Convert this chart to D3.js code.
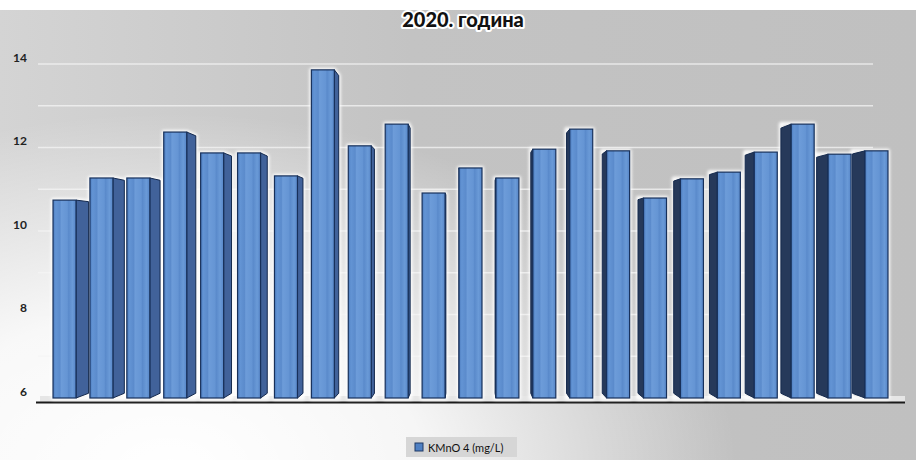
<!DOCTYPE html>
<html>
<head>
<meta charset="utf-8">
<script src="https://cdn.jsdelivr.net/npm/d3@7/dist/d3.min.js"></script>
<style>
  html, body { margin: 0; padding: 0; background: #fff; }
  svg { display: block; }
</style>
</head>
<body>
<svg id="chart" width="916" height="460"></svg>
<script>
// Sampling points along the x axis (unlabelled on the chart)
const stations = ["1","2","3","4","5","6","7","8","9","10","11","12","13","14","15","16","17","18","19","20","21","22","23"];
// KMnO4 consumption, mg/L
const kmno4 = [10.74, 11.27, 11.27, 12.37, 11.87, 11.87, 11.32, 13.86, 12.04, 12.56, 10.91, 11.51,
               11.27, 11.96, 12.44, 11.92, 10.79, 11.25, 11.41, 11.89, 12.56, 11.84, 11.92];
const yTickValues = [6, 8, 10, 12, 14];
const gridValues = [7, 8, 9, 10, 11, 12, 13, 14];
const chartTitle = "2020. година";
const seriesName = "KMnO 4 (mg/L)";

const W = 916, H = 460;
const svg = d3.select("#chart");
const defs = svg.append("defs");

// ---- background ----
const bgLin = defs.append("linearGradient").attr("id", "bgLin")
  .attr("x1", 0).attr("y1", 0).attr("x2", 1).attr("y2", 0);
bgLin.append("stop").attr("offset", 0).attr("stop-color", "#d4d4d4");
bgLin.append("stop").attr("offset", 0.45).attr("stop-color", "#c3c3c3");
bgLin.append("stop").attr("offset", 1).attr("stop-color", "#c0c0c0");

const glow = defs.append("radialGradient").attr("id", "bgGlow")
  .attr("gradientUnits", "userSpaceOnUse")
  .attr("cx", 0).attr("cy", 0).attr("r", 420)
  .attr("gradientTransform", "translate(170,470) scale(1.35,0.85)");
glow.append("stop").attr("offset", 0).attr("stop-color", "#ffffff").attr("stop-opacity", 1);
glow.append("stop").attr("offset", 0.45).attr("stop-color", "#ffffff").attr("stop-opacity", 0.85);
glow.append("stop").attr("offset", 1).attr("stop-color", "#ffffff").attr("stop-opacity", 0);

svg.append("rect").attr("x", 0).attr("y", 0).attr("width", W).attr("height", H).attr("fill", "#fff");
svg.append("rect").attr("x", 0).attr("y", 10).attr("width", W).attr("height", H - 10).attr("fill", "url(#bgLin)");
svg.append("rect").attr("x", 0).attr("y", 10).attr("width", W).attr("height", H - 10).attr("fill", "url(#bgGlow)");

// ---- scales ----
const x = d3.scaleBand().domain(stations).range([46, 895]).paddingInner(0.377).paddingOuter(0.19);
const y = d3.scaleLinear().domain([6, 14]).range([398, 64]);

// perspective used for the bar side faces
const vp = { x: 470, y: 250 }, depth = 0.032;

// ---- gridlines ----
svg.append("g").selectAll("line").data(gridValues).join("line")
  .attr("x1", 38).attr("x2", 873)
  .attr("y1", d => y(d)).attr("y2", d => y(d))
  .attr("stroke", "#f4f4f4").attr("stroke-opacity", 0.75).attr("stroke-width", 1.4);

// ---- y axis labels ----
const yAxis = d3.axisLeft(y).tickValues(yTickValues).tickSize(0).tickPadding(0).tickFormat(d3.format("d"));
const gy = svg.append("g").attr("transform", "translate(27,0)").call(yAxis);
gy.select(".domain").remove();
gy.selectAll("text")
  .attr("dy", "-0.25em")
  .attr("font-family", "Lato, 'Open Sans', sans-serif")
  .attr("font-weight", "bold").attr("font-size", 12).attr("fill", "#222");

// ---- floor ----
svg.append("rect").attr("x", 40).attr("y", 396).attr("width", 865).attr("height", 6).attr("fill", "#e6e6e6");
svg.append("line").attr("x1", 36).attr("x2", 905).attr("y1", 402.5).attr("y2", 402.5)
  .attr("stroke", "#1a1a1a").attr("stroke-width", 2);

// ---- bar paints ----
const frontGrad = defs.append("linearGradient").attr("id", "front")
  .attr("x1", 0).attr("y1", 0).attr("x2", 1).attr("y2", 0);
[[0, "#4d7dc0"], [0.12, "#6394d4"], [0.3, "#5b8bcc"], [0.36, "#6d9cd9"], [0.62, "#6595d4"],
 [0.68, "#5a8acb"], [0.85, "#6a9ad7"], [1, "#5685c7"]].forEach(([o, c]) =>
  frontGrad.append("stop").attr("offset", o).attr("stop-color", c));

const halo = defs.append("filter").attr("id", "halo").attr("x", "-20%").attr("y", "-20%").attr("width", "140%").attr("height", "140%");
halo.append("feGaussianBlur").attr("stdDeviation", 1.4);

const bars = kmno4.map((v, i) => {
  const fx0 = x(stations[i]), fx1 = fx0 + x.bandwidth();
  const cx = (fx0 + fx1) / 2;
  const leftOfCentre = cx < vp.x;
  const e = leftOfCentre ? fx1 : fx0;
  const yt = y(v), yb = y(6);
  const bx = e + (vp.x - e) * depth;
  const byt = yt + (vp.y - yt) * depth;
  const byb = yb + (vp.y - yb) * depth;
  return { v, fx0, fx1, yt, yb, e, bx, byt, byb, leftOfCentre };
});

const sidePath = b => `M${b.e},${b.yt}L${b.bx},${b.byt}L${b.bx},${b.byb}L${b.e},${b.yb}Z`;
const outlinePath = b => {
  const xs = [b.fx0, b.fx1, b.bx];
  const minX = Math.min(...xs), maxX = Math.max(...xs);
  return `M${minX},${b.leftOfCentre ? b.yt : b.byt}L${b.leftOfCentre ? b.fx1 : b.bx},${b.yt}` +
         `L${b.leftOfCentre ? b.bx : b.fx1},${b.leftOfCentre ? b.byt : b.yt}L${maxX},${b.yb}L${minX},${b.yb}Z`;
};

// white halo behind every bar
svg.append("g").attr("filter", "url(#halo)").selectAll("path").data(bars).join("path")
  .attr("d", outlinePath)
  .attr("fill", "none").attr("stroke", "#ffffff").attr("stroke-width", 4).attr("stroke-opacity", 0.95)
  .attr("stroke-linejoin", "round");

const gBars = svg.append("g");
// side faces
gBars.selectAll("path.side").data(bars).join("path").attr("class", "side")
  .attr("d", sidePath)
  .attr("fill", b => b.leftOfCentre ? "#41629a" : "#26395a")
  .attr("stroke", "#14294d").attr("stroke-width", 1).attr("stroke-linejoin", "round");
// front faces
gBars.selectAll("rect.front").data(bars).join("rect").attr("class", "front")
  .attr("x", b => b.fx0).attr("y", b => b.yt)
  .attr("width", b => b.fx1 - b.fx0).attr("height", b => b.yb - b.yt)
  .attr("fill", "url(#front)")
  .attr("stroke", "#17305a").attr("stroke-width", 1.2);

// ---- title ----
svg.append("text").attr("x", 463).attr("y", 27).attr("text-anchor", "middle")
  .attr("font-family", "Lato, 'Open Sans', sans-serif").attr("font-weight", 900).attr("font-size", 20)
  .attr("fill", "#111").attr("stroke", "#ffffff").attr("stroke-width", 4)
  .attr("stroke-linejoin", "round").attr("paint-order", "stroke")
  .text(chartTitle);

// ---- legend ----
const lg = svg.append("g").attr("transform", "translate(406,437)");
lg.append("rect").attr("width", 111).attr("height", 20).attr("fill", "#d6d6d6");
lg.append("rect").attr("x", 9).attr("y", 6).attr("width", 8).attr("height", 8)
  .attr("fill", "#4f80c3").attr("stroke", "#1f3864").attr("stroke-width", 1);
lg.append("text").attr("x", 22).attr("y", 14.5)
  .attr("font-family", "Lato, 'Open Sans', sans-serif").attr("font-size", 11).attr("fill", "#111")
  .text(seriesName);
</script>
</body>
</html>
